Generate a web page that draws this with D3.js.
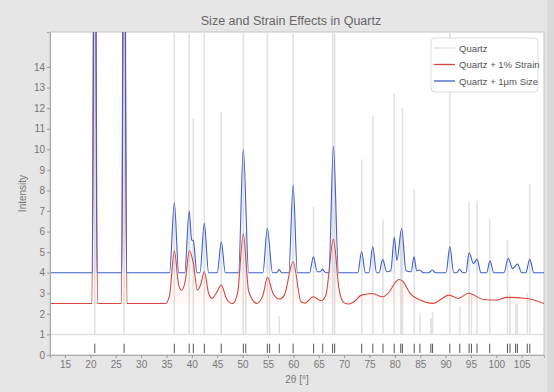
<!DOCTYPE html>
<html>
<head>
<meta charset="utf-8">
<script src="https://cdn.jsdelivr.net/npm/d3@7"></script>
<style>
	body { margin: 0; background: #e6e6e6; }
	text { font-family: "Liberation Sans", Arial, sans-serif; }
</style>
</head>
<body>
<div id="chart-area"></div>
<script>
/*
*    Size and strain broadening of a quartz powder pattern
*/

// reflection positions (2θ) and stick heights of the reference pattern
var peakPos = [20.86, 26.64, 36.54, 39.47, 40.29, 42.45, 45.79, 50.14, 50.62, 54.87, 55.32, 57.23,
	59.96, 63.99, 65.79, 67.74, 68.14, 73.47, 75.66, 77.67, 79.88, 81.17, 81.49, 83.83, 84.95,
	87.1, 87.44, 90.83, 92.8, 94.64, 95.1, 96.2, 98.7, 102.2, 102.7, 103.8, 104.15, 106.1, 106.6]
var quartzHeight = [30, 30, 16.5, 16.5, 11.5, 16.5, 11.8, 16.5, 6, 16.5, 5, 1.9,
	16.5, 7.2, 4.3, 16.5, 16.5, 9.5, 11.6, 6.6, 12.7, 6, 12.0, 8.05, 2.0,
	1.8, 2.1, 16.5, 2.35, 7.45, 3, 7.5, 6.6, 5.6, 3, 2.5, 2.5, 3, 8.3]
var quartzBase = 1

// Quartz + 1% Strain  [2θ, intensity]
var strainPts = [[12, 2.5], [20.3, 2.5], [20.86, 30], [21.4, 2.5], [26.1, 2.5], [26.64, 30], [27.2, 2.5],
	[34.8, 2.5], [35.6, 2.9], [36.55, 5.07], [37.4, 3.4], [38.0, 3.15], [38.7, 3.6], [39.5, 5.07],
	[40.3, 4.45], [41.1, 3.16], [41.7, 3.4], [42.45, 4.05], [43.3, 3.0], [44.0, 2.75], [44.9, 3.05],
	[45.8, 3.4], [46.8, 2.75], [48.0, 2.5], [49.0, 3.0], [50.14, 5.88], [51.2, 3.1], [52.8, 2.51],
	[54.0, 2.9], [54.9, 3.77], [56.0, 3.0], [57.2, 2.72], [58.2, 2.9], [59.95, 4.53], [61.5, 2.6],
	[62.3, 2.52], [63.9, 2.83], [65.5, 2.64], [66.4, 2.9], [67.9, 5.62], [69.0, 3.2], [70.0, 2.54],
	[71.0, 2.48], [72.0, 2.6], [73.4, 2.91], [75.6, 2.99], [77.6, 2.83], [79.0, 3.1], [80.0, 3.5],
	[80.8, 3.67], [81.5, 3.6], [83.0, 3.0], [85.0, 2.67], [87.5, 2.51], [90.7, 2.91], [92.5, 2.75],
	[94.5, 3.0], [97.5, 2.7], [100.0, 2.67], [102.0, 2.8], [106.0, 2.75], [109.4, 2.5]]

// Quartz + 1µm Size  [2θ, intensity]
var sizePts = [[12, 4], [20.4, 4], [20.86, 30], [21.3, 4], [26.2, 4], [26.64, 30], [27.1, 4],
	[35.6, 4], [36.55, 7.4], [37.4, 4], [38.6, 4], [39.47, 7.0], [39.95, 5.6], [40.3, 5.55], [41.0, 4],
	[41.6, 4], [42.45, 6.4], [43.3, 4], [45.0, 4], [45.8, 5.5], [46.6, 4], [49.2, 4], [50.14, 10.0],
	[51.2, 4], [54.0, 4], [54.87, 6.15], [55.9, 4], [56.7, 4], [57.2, 4.15], [57.7, 4], [59.1, 4],
	[59.95, 8.26], [60.8, 4], [63.2, 4], [63.95, 4.77], [64.7, 4.05], [65.3, 4.05], [65.75, 4.16],
	[66.4, 4], [67.0, 4], [67.9, 10.15], [68.9, 4], [72.7, 4], [73.45, 5.02], [74.2, 4], [74.9, 4],
	[75.65, 5.26], [76.4, 4], [76.9, 4], [77.6, 4.65], [78.4, 4.05], [79.2, 4.1], [79.9, 5.72],
	[80.4, 4.6], [81.35, 6.15], [82.2, 4.1], [83.2, 4.05], [83.8, 4.77], [84.3, 4.1], [84.9, 4.13],
	[85.6, 4], [86.7, 4], [87.4, 4.13], [88.0, 4], [90.1, 4], [90.85, 5.26], [91.6, 4], [92.2, 4],
	[92.75, 4.16], [93.4, 4], [94.0, 4], [94.65, 4.97], [95.5, 4.45], [96.2, 4.65], [97.0, 4],
	[98.1, 4], [98.75, 4.58], [99.5, 4], [101.5, 4], [102.35, 4.7], [103.2, 4.2], [104.2, 4.42],
	[105.0, 4], [105.8, 4], [106.6, 4.65], [107.4, 4], [109.4, 4]]

var xTicks = [15, 20, 25, 30, 35, 40, 45, 50, 55, 60, 65, 70, 75, 80, 85, 90, 95, 100, 105]
var yTicks = [0, 1, 2, 3, 4, 5, 6, 7, 8, 9, 10, 11, 12, 13, 14]
var seriesNames = ["Quartz", "Quartz + 1% Strain", "Quartz + 1\u03bcm Size"]
var seriesColors = ["#e2e2e2", "#d9473e", "#3f5fc8"]

var margin = { left: 50, right: 10, top: 32, bottom: 37 }
var width = 554 - margin.left - margin.right,
	height = 392 - margin.top - margin.bottom

var svg = d3.select("#chart-area")
	.append("svg")
		.attr("width", 554)
		.attr("height", 392)

svg.append("rect")
	.attr("x", 547).attr("y", 0)
	.attr("width", 7).attr("height", 392)
	.attr("fill", "#d9d9d9")

var g = svg.append("g")
	.attr("transform", "translate(" + margin.left + ", " + margin.top + ")")

// scales
var x = d3.scaleLinear()
	.domain([12.04, 109.4])
	.range([0, width])
var y = d3.scaleLinear()
	.domain([0, 15.7])
	.range([height, 0])

g.append("rect")
	.attr("width", width)
	.attr("height", height)
	.attr("fill", "#fff")
	.attr("stroke", "#c4c4c4")

g.append("clipPath").attr("id", "clip")
	.append("rect")
	.attr("width", width)
	.attr("height", height)

var plot = g.append("g").attr("clip-path", "url(#clip)")

var line = d3.line()
	.x(d => x(d[0]))
	.y(d => y(d[1]))

// reference sticks
var quartzPts = [[12, quartzBase]]
peakPos.forEach((p, i) => {
	quartzPts.push([p, quartzBase], [p, quartzHeight[i]], [p, quartzBase])
})
quartzPts.push([109.4, quartzBase])

plot.append("path")
	.datum(quartzPts)
	.attr("fill", "none")
	.attr("stroke", seriesColors[0])
	.attr("stroke-width", 1.6)
	.attr("d", line)

// reflection markers
plot.selectAll(".bragg")
	.data(peakPos)
	.enter()
	.append("line")
		.attr("class", "bragg")
		.attr("x1", d => x(d))
		.attr("x2", d => x(d))
		.attr("y1", y(0.1))
		.attr("y2", y(0.55))
		.attr("stroke", "#555")
		.attr("stroke-width", 1)

var smooth = d3.line()
	.x(d => x(d[0]))
	.y(d => y(d[1]))
	.curve(d3.curveMonotoneX)

var area = d3.area()
	.x(d => x(d[0]))
	.y1(d => y(d[1]))
	.curve(d3.curveMonotoneX)

plot.append("path")
	.datum(strainPts)
	.attr("fill", seriesColors[1])
	.attr("fill-opacity", 0.04)
	.attr("d", area.y0(y(2.5)))
plot.append("path")
	.datum(sizePts)
	.attr("fill", seriesColors[2])
	.attr("fill-opacity", 0.04)
	.attr("d", area.y0(y(4)))

plot.append("path")
	.datum(strainPts)
	.attr("fill", "none")
	.attr("stroke", seriesColors[1])
	.attr("stroke-width", 1.1)
	.attr("d", smooth)
plot.append("path")
	.datum(sizePts)
	.attr("fill", "none")
	.attr("stroke", seriesColors[2])
	.attr("stroke-width", 1.1)
	.attr("d", smooth)

// axes
var xAxis = g.append("g")
	.attr("transform", "translate(0," + height + ")")
	.call(d3.axisBottom(x).tickValues(xTicks).tickSize(3).tickPadding(3))
var yAxis = g.append("g")
	.call(d3.axisLeft(y).tickValues(yTicks).tickSize(3).tickPadding(2))

g.selectAll(".domain").attr("stroke", "#aaa")
g.selectAll(".tick line").attr("stroke", "#999")
g.selectAll(".tick text")
	.attr("fill", "#777")
	.attr("font-size", "10px")
	.style("font-family", "Liberation Sans, Arial, sans-serif")

// labels
svg.append("text")
	.attr("x", margin.left + width / 2)
	.attr("y", 383)
	.attr("text-anchor", "middle")
	.attr("font-size", "10px")
	.attr("fill", "#777")
	.text("2\u03b8 [\u00b0]")
svg.append("text")
	.attr("transform", "rotate(-90)")
	.attr("x", -(margin.top + height / 2))
	.attr("y", 26)
	.attr("text-anchor", "middle")
	.attr("font-size", "10px")
	.attr("fill", "#777")
	.text("Intensity")
svg.append("text")
	.attr("x", margin.left + width / 2 - 6)
	.attr("y", 25)
	.attr("text-anchor", "middle")
	.attr("font-size", "12.5px")
	.attr("fill", "#666")
	.text("Size and Strain Effects in Quartz")

// legend
var legend = g.append("g")
	.attr("transform", "translate(" + (width - 113) + ", 6)")
legend.append("rect")
	.attr("width", 107)
	.attr("height", 54)
	.attr("rx", 4)
	.attr("fill", "#fff")
	.attr("stroke", "#ddd")

seriesNames.forEach((name, i) => {
	var row = legend.append("g")
		.attr("transform", "translate(0, " + (10 + i * 16.5) + ")")
	row.append("line")
		.attr("x1", 3).attr("x2", 24)
		.attr("stroke", seriesColors[i])
		.attr("stroke-width", 1.3)
	row.append("text")
		.attr("x", 28)
		.attr("y", 3.5)
		.attr("font-size", "9.5px")
		.attr("fill", "#555")
		.text(name)
})
</script>
</body>
</html>
